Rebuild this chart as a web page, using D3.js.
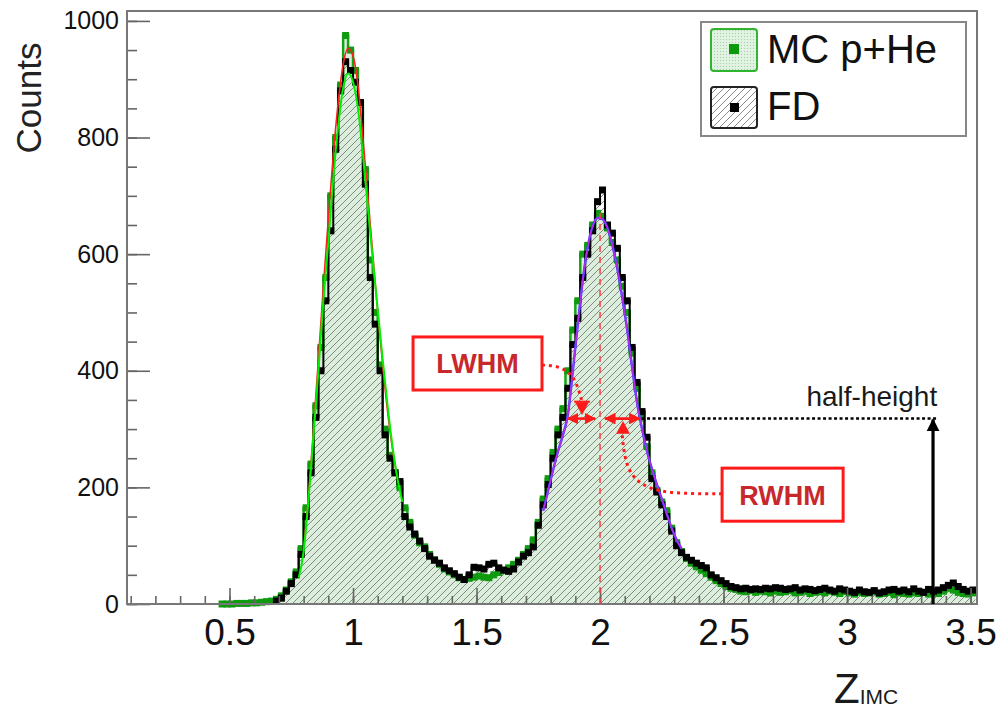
<!DOCTYPE html>
<html>
<head>
<meta charset="utf-8">
<script src="https://cdn.jsdelivr.net/npm/d3@7"></script>
<style>
  body { margin: 0; background: #fff; }
  svg text { font-family: "Liberation Sans", Arial, Helvetica, sans-serif; }
</style>
</head>
<body>
<div id="chart"></div>
<script>
// histogram binning (bin width 0.02)
const binWidth = 0.02;
const mcStart = 0.46;
const fdStart = 0.68;

// MC p+He counts, bins from 0.46
const mcCounts = [
    0, 0, 0, 1, 1, 1, 2, 2, 3, 4,
    5, 8, 14, 24, 38, 55, 95, 165, 240, 340,
    440, 560, 700, 800, 890, 975, 950, 915, 860, 745,
    590, 500, 410, 300, 255, 225, 200, 165, 140, 118,
    105, 98, 85, 76, 68, 60, 55, 50, 45, 42,
    44, 46, 48, 46, 45, 50, 54, 58, 62, 68,
    75, 85, 95, 110, 140, 180, 215, 260, 300, 335,
    400, 470, 520, 600, 615, 650, 670, 665, 645, 620,
    590, 545, 500, 430, 370, 320, 270, 225, 195, 175,
    160, 130, 105, 90, 78, 70, 64, 58, 52, 46,
    40, 35, 30, 27, 25,
    22, 21, 23, 20, 22, 21, 19, 22, 20, 21,
    23, 19, 20, 22, 18, 20, 21, 19, 22, 20,
    18, 21, 19, 17, 20, 18, 19, 21, 17, 18,
    20, 16, 19, 18, 17, 19, 18, 20, 17, 19,
    18, 22, 27, 24, 20, 18, 17, 19
];

// FD counts, bins from 0.68
const fdCounts = [
    5, 10, 22, 35, 50, 85, 150, 225, 320, 400,
    520, 640, 780, 880, 930, 915, 895, 860, 720, 560,
    480, 400, 290, 250, 225, 210, 150, 132, 120, 108,
    95, 82, 75, 70, 62, 57, 52, 46, 42, 50,
    63, 62, 60, 68, 70, 62, 58, 56, 60, 72,
    82, 88, 98, 135, 170, 205, 250, 290, 320, 370,
    445, 490, 560, 600, 640, 690, 710, 650, 636, 610,
    560, 520, 440, 380, 330, 286, 215, 192, 170, 150,
    125, 100, 88, 80, 75, 70, 66, 62, 50, 45,
    40, 35, 30, 28, 26, 27, 25, 26, 25, 27,
    26, 28, 27, 25, 26, 28, 24, 26, 25, 23,
    25, 27, 24, 22, 26, 24, 22, 20, 24, 21,
    20, 23, 19, 21, 24, 25, 22, 24, 21, 26,
    22, 20, 25, 22, 24, 28, 32, 36, 30, 25,
    22, 24
];

// fit curves
const redFitX = [0.80, 0.82, 0.84, 0.86, 0.88, 0.90, 0.92, 0.94, 0.96, 0.98, 1.00, 1.02, 1.04, 1.06, 1.08, 1.10, 1.12, 1.14, 1.16, 1.18];
const redFitY = [95, 185, 300, 420, 545, 660, 770, 860, 925, 953, 940, 890, 800, 700, 600, 500, 410, 330, 265, 215];

const greenFitX = [0.78, 0.80, 0.82, 0.84, 0.86, 0.88, 0.90, 0.92, 0.94, 0.96, 0.98, 1.00, 1.02, 1.04, 1.06, 1.08, 1.10, 1.12, 1.14, 1.16, 1.18, 1.20];
const greenFitY = [45, 90, 180, 290, 400, 521, 620, 730, 820, 885, 910, 895, 850, 770, 680, 590, 505, 420, 340, 270, 215, 175];

const purpleFitX = [1.77, 1.79, 1.81, 1.83, 1.85, 1.87, 1.89, 1.91, 1.93, 1.95, 1.97, 1.99, 2.01, 2.03, 2.05, 2.07, 2.09, 2.11, 2.13, 2.15, 2.17, 2.19, 2.21, 2.23, 2.25, 2.27, 2.29, 2.31, 2.33];
const purpleFitY = [160, 195, 230, 262, 290, 325, 400, 480, 555, 612, 648, 662, 660, 645, 615, 575, 525, 470, 405, 345, 300, 262, 232, 205, 180, 155, 130, 110, 95];

// tick labels
const xTickValues = [0.5, 1, 1.5, 2, 2.5, 3, 3.5];
const yTickValues = [0, 200, 400, 600, 800, 1000];

// annotation anchors (data units)
const peak2Center = 2.0;
const peak2Top = 672;
const halfHeight = 318;
const lwhmEdge = 1.87;
const rwhmEdge = 2.16;
const heightArrowX = 3.348;
const halfLineEnd = 3.365;

const width = 1003, height = 711;
const plot = {left: 127, right: 977, top: 11, bottom: 604};

const svg = d3.select("#chart").append("svg")
    .attr("width", width)
    .attr("height", height);

const x = d3.scaleLinear().domain([0.085, 3.526]).range([plot.left, plot.right]);
const y = d3.scaleLinear().domain([0, 1017]).range([plot.bottom, plot.top]);

// patterns
const defs = svg.append("defs");
const hatch = defs.append("pattern")
    .attr("id", "hatch")
    .attr("patternUnits", "userSpaceOnUse")
    .attr("width", 7).attr("height", 7);
hatch.append("path")
    .attr("d", "M-2,2 l4,-4 M0,7 l7,-7 M5,9 l4,-4")
    .attr("stroke", "#7d7d7d")
    .attr("stroke-width", 0.9);

const dots = defs.append("pattern")
    .attr("id", "dots")
    .attr("patternUnits", "userSpaceOnUse")
    .attr("width", 3).attr("height", 3);
dots.append("rect").attr("width", 3).attr("height", 3).attr("fill", "#e2f2e2");
dots.append("rect").attr("width", 1).attr("height", 1).attr("fill", "#9fd29f");

["redHead", "blackHead"].forEach((id, i) => {
    defs.append("marker")
        .attr("id", id)
        .attr("viewBox", "0 0 10 10")
        .attr("refX", 9).attr("refY", 5)
        .attr("markerWidth", i ? 4 : 4.5).attr("markerHeight", i ? 4.5 : 4.5)
        .attr("orient", "auto-start-reverse")
        .append("path")
        .attr("d", "M0,0 L10,5 L0,10 z")
        .attr("fill", i ? "#000" : "#ff1a1a");
});

// turn bin arrays into step points
function toBins(start, counts) {
    return counts.map((c, i) => ({x0: start + i * binWidth, xc: start + (i + 0.5) * binWidth, v: c}));
}
const mcBins = toBins(mcStart, mcCounts);
const fdBins = toBins(fdStart, fdCounts);

function stepPoints(bins) {
    let pts = bins.map(b => ({x: b.x0, v: b.v}));
    let last = bins[bins.length - 1];
    pts.push({x: last.x0 + binWidth, v: last.v});
    return pts;
}

const area = d3.area()
    .x(d => x(d.x))
    .y0(y(0))
    .y1(d => y(d.v))
    .curve(d3.curveStepAfter);

const stepLine = d3.line()
    .x(d => x(d.x))
    .y(d => y(d.v))
    .curve(d3.curveStepAfter);

const g = svg.append("g");

// filled areas
g.append("path")
    .attr("d", area(stepPoints(mcBins)))
    .attr("fill", "#dbeedb");
g.append("path")
    .attr("d", area(stepPoints(fdBins)))
    .attr("fill", "url(#hatch)");

// MC markers
g.append("path")
    .attr("d", stepLine(stepPoints(mcBins)))
    .attr("fill", "none")
    .attr("stroke", "#17a317")
    .attr("stroke-width", 2.5);
g.selectAll(".mc-pt")
    .data(mcBins)
    .join("rect")
    .attr("class", "mc-pt")
    .attr("x", d => x(d.xc) - 3.5)
    .attr("y", d => y(d.v) - 3.5)
    .attr("width", 7).attr("height", 7)
    .attr("fill", "#0f9a0f");

// FD markers
g.append("path")
    .attr("d", stepLine(stepPoints(fdBins)))
    .attr("fill", "none")
    .attr("stroke", "#000")
    .attr("stroke-width", 2);
g.selectAll(".fd-pt")
    .data(fdBins)
    .join("rect")
    .attr("class", "fd-pt")
    .attr("x", d => x(d.xc) - 3.5)
    .attr("y", d => y(d.v) - 3.5)
    .attr("width", 7).attr("height", 7)
    .attr("fill", "#000");

// fits
const fitLine = d3.line().x(d => x(d[0])).y(d => y(d[1])).curve(d3.curveMonotoneX);
g.append("path")
    .attr("d", fitLine(d3.zip(redFitX, redFitY)))
    .attr("fill", "none").attr("stroke", "#ff1f1f").attr("stroke-width", 1.6);
g.append("path")
    .attr("d", fitLine(d3.zip(greenFitX, greenFitY)))
    .attr("fill", "none").attr("stroke", "#00f000").attr("stroke-width", 2);
g.append("path")
    .attr("d", fitLine(d3.zip(purpleFitX, purpleFitY)))
    .attr("fill", "none").attr("stroke", "#3a3aff").attr("stroke-width", 2.4);
g.append("path")
    .attr("d", fitLine(d3.zip(purpleFitX, purpleFitY)))
    .attr("fill", "none").attr("stroke", "#b02cf0").attr("stroke-width", 1.6);

// axes
const xAxis = d3.axisBottom(x).tickValues(xTickValues).tickSize(-16).tickPadding(15).tickFormat(d => d);
const xMinor = d3.axisBottom(x).tickValues(d3.range(1, 36).map(i => i / 10)).tickSize(-8).tickFormat("");
const yAxis = d3.axisLeft(y).tickValues(yTickValues).tickSize(-23).tickPadding(8).tickFormat(d3.format("d"));
const yMinor = d3.axisLeft(y).tickValues(d3.range(0, 21).map(i => i * 50)).tickSize(-10).tickFormat("");

[[xMinor, "x"], [xAxis, "x"], [yMinor, "y"], [yAxis, "y"]].forEach(([ax, k]) => {
    let a = svg.append("g")
        .attr("transform", k === "x" ? `translate(0,${plot.bottom})` : `translate(${plot.left},0)`)
        .call(ax);
    a.select(".domain").remove();
    a.selectAll("line").attr("stroke", "#666").attr("stroke-width", 1.6);
    a.selectAll("text").attr("fill", "#111").style("font-size", k === "x" ? "37px" : "25px");
});

// frame
svg.append("rect")
    .attr("x", plot.left).attr("y", plot.top)
    .attr("width", plot.right - plot.left).attr("height", plot.bottom - plot.top)
    .attr("fill", "none").attr("stroke", "#777").attr("stroke-width", 2);

// axis titles
svg.append("text")
    .attr("transform", "translate(41,98) rotate(-90)")
    .attr("text-anchor", "middle")
    .attr("fill", "#222")
    .style("font-size", "35px")
    .text("Counts");

const xt = svg.append("text")
    .attr("x", 834).attr("y", 703)
    .attr("fill", "#1a1a1a")
    .style("font-size", "42px");
xt.append("tspan").text("Z");
xt.append("tspan").style("font-size", "21px").attr("dy", 1).text("IMC");

// legend
const leg = svg.append("g");
leg.append("rect")
    .attr("x", 701).attr("y", 22).attr("width", 265).attr("height", 114)
    .attr("fill", "#fff").attr("stroke", "#888").attr("stroke-width", 2);
leg.append("rect")
    .attr("x", 711).attr("y", 29).attr("width", 46).attr("height", 42).attr("rx", 3)
    .attr("fill", "url(#dots)").attr("stroke", "#2fb52f").attr("stroke-width", 2);
leg.append("rect")
    .attr("x", 729).attr("y", 44).attr("width", 10).attr("height", 10).attr("fill", "#0a9a0a");
leg.append("rect")
    .attr("x", 711).attr("y", 87).attr("width", 46).attr("height", 41).attr("rx", 3)
    .attr("fill", "url(#hatch)").attr("stroke", "#222").attr("stroke-width", 2);
leg.append("rect")
    .attr("x", 730).attr("y", 103).attr("width", 9).attr("height", 9).attr("fill", "#000");
leg.append("text").attr("x", 767).attr("y", 63).style("font-size", "40px").attr("fill", "#111").text("MC p+He");
leg.append("text").attr("x", 767).attr("y", 120).style("font-size", "40px").attr("fill", "#111").text("FD");

// annotations
const ann = svg.append("g");

// peak centre
ann.append("line")
    .attr("x1", x(peak2Center)).attr("x2", x(peak2Center))
    .attr("y1", y(0)).attr("y2", y(peak2Top))
    .attr("stroke", "#ff4040").attr("stroke-width", 1.5).attr("stroke-dasharray", "6,5");

// half-height level
ann.append("line")
    .attr("x1", x(rwhmEdge) + 2).attr("x2", x(halfLineEnd))
    .attr("y1", y(halfHeight)).attr("y2", y(halfHeight))
    .attr("stroke", "#000").attr("stroke-width", 2.5).attr("stroke-dasharray", "3,2.5");

ann.append("line")
    .attr("x1", x(heightArrowX)).attr("x2", x(heightArrowX))
    .attr("y1", y(0)).attr("y2", y(halfHeight) + 1)
    .attr("stroke", "#000").attr("stroke-width", 3.2)
    .attr("marker-end", "url(#blackHead)");

ann.append("text")
    .attr("x", x(halfLineEnd)).attr("y", y(halfHeight) - 13)
    .attr("text-anchor", "end")
    .attr("fill", "#1a1a1a")
    .style("font-size", "28px")
    .text("half-height");

// width arrows
[[lwhmEdge, peak2Center - 0.02], [peak2Center + 0.02, rwhmEdge]].forEach(([a, b]) => {
    ann.append("line")
        .attr("x1", x(a)).attr("x2", x(b))
        .attr("y1", y(halfHeight)).attr("y2", y(halfHeight))
        .attr("stroke", "#ff1a1a").attr("stroke-width", 2.6)
        .attr("marker-start", "url(#redHead)")
        .attr("marker-end", "url(#redHead)");
});

// label boxes
function labelBox(x0, x1, y0, y1, label) {
    ann.append("rect")
        .attr("x", x(x0)).attr("y", y(y0))
        .attr("width", x(x1) - x(x0)).attr("height", y(y1) - y(y0))
        .attr("fill", "#fff").attr("stroke", "#ff1a1a").attr("stroke-width", 3);
    ann.append("text")
        .attr("x", (x(x0) + x(x1)) / 2).attr("y", (y(y0) + y(y1)) / 2 + 10)
        .attr("text-anchor", "middle")
        .attr("fill", "#c8272c")
        .style("font-size", "27px").style("font-weight", "bold")
        .text(label);
}
labelBox(1.243, 1.765, 458, 367, "LWHM");
labelBox(2.494, 2.984, 233, 142, "RWHM");

// pointers
const pointer = d3.line().x(d => x(d[0])).y(d => y(d[1])).curve(d3.curveBasis);
ann.append("path")
    .attr("d", pointer([[1.765, 410], [1.83, 408], [1.875, 398], [1.905, 380], [1.925, 350]]))
    .attr("fill", "none").attr("stroke", "#ff1a1a").attr("stroke-width", 3).attr("stroke-dasharray", "3,4");
ann.append("path")
    .attr("d", `M${x(1.899)},${y(346)} L${x(1.955)},${y(346)} L${x(1.927)},${y(324)} Z`)
    .attr("fill", "#ff1a1a");
ann.append("line")
    .attr("x1", x(1.895)).attr("x2", x(1.959))
    .attr("y1", y(347)).attr("y2", y(347))
    .attr("stroke", "#ff1a1a").attr("stroke-width", 2);

ann.append("path")
    .attr("d", pointer([[2.494, 189], [2.35, 189], [2.2, 194], [2.105, 225], [2.09, 290]]))
    .attr("fill", "none").attr("stroke", "#ff1a1a").attr("stroke-width", 3).attr("stroke-dasharray", "3,4");
ann.append("path")
    .attr("d", `M${x(2.065)},${y(292)} L${x(2.121)},${y(292)} L${x(2.093)},${y(314)} Z`)
    .attr("fill", "#ff1a1a");
</script>
</body>
</html>
